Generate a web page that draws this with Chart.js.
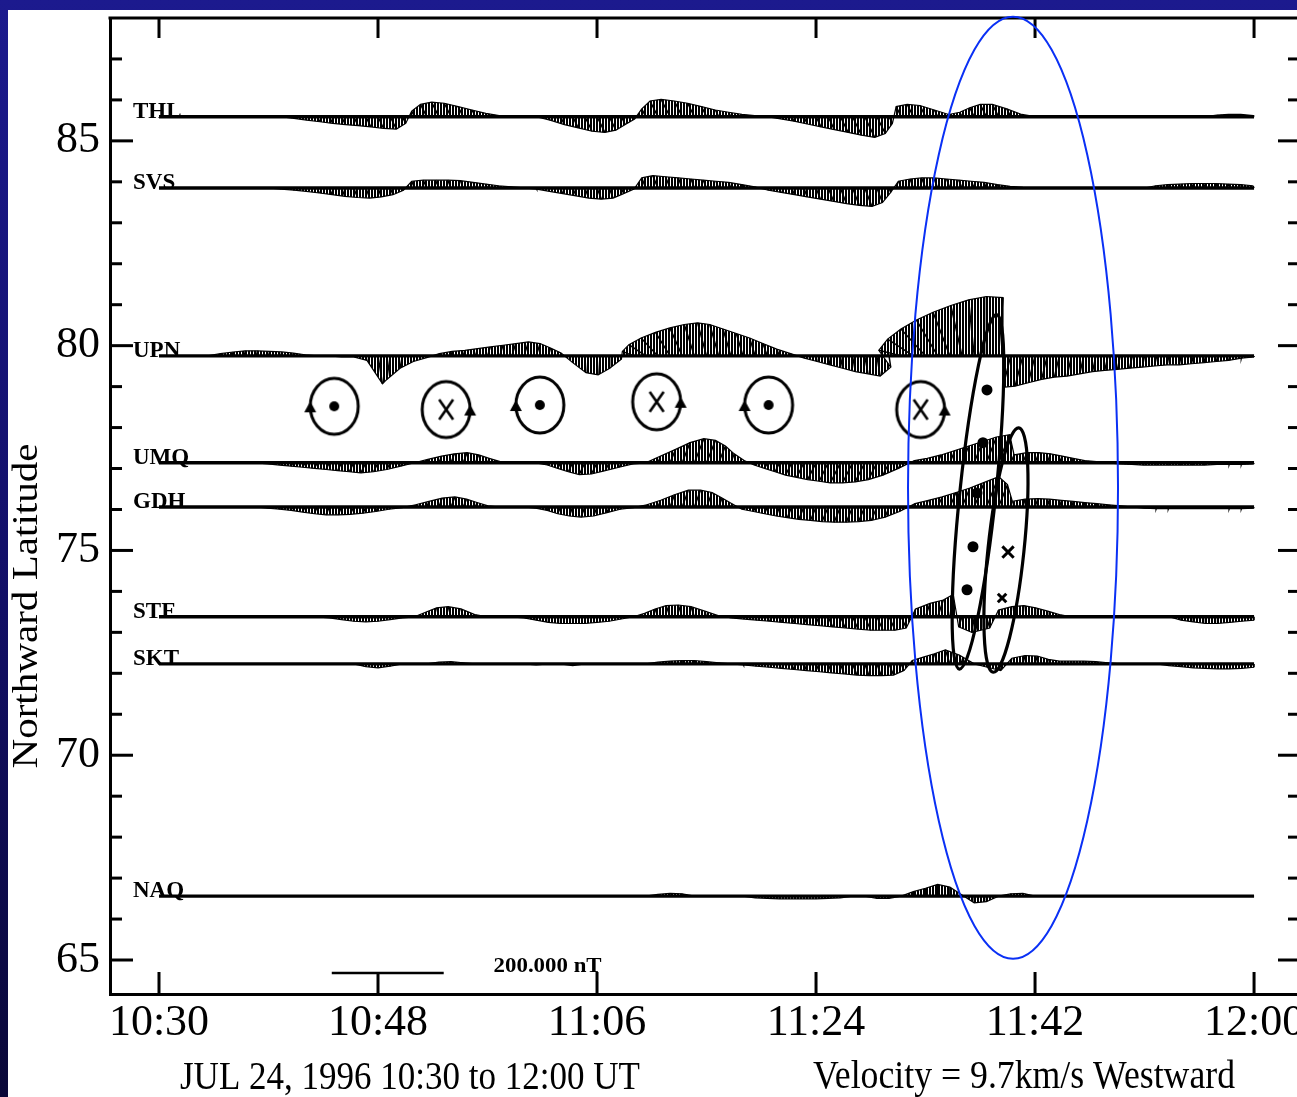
<!DOCTYPE html>
<html>
<head>
<meta charset="utf-8">
<script src="https://cdn.jsdelivr.net/npm/chart.js@4.4.1/dist/chart.umd.min.js"></script>
<style>
  html, body { margin: 0; padding: 0; }
  body {
    width: 1297px; height: 1097px; overflow: hidden; position: relative;
    background: linear-gradient(180deg, #1c1a8e 0%, #120f66 55%, #0a0838 100%);
  }
  #wrap { position: absolute; left: 8px; top: 10px; width: 1289px; height: 1087px; background: #fff; }
  canvas { display: block; }
</style>
</head>
<body>
<div id="wrap"><canvas id="stack" width="1289" height="1087"></canvas></div>
<script>
// minutes after 10:30 UT, one sample per minute
const MINUTES = [0,1,2,3,4,5,6,7,8,9,10,11,12,13,14,15,16,17,18,19,20,21,22,23,24,25,26,27,28,29,
  30,31,32,33,34,35,36,37,38,39,40,41,42,43,44,45,46,47,48,49,50,51,52,53,54,55,56,57,58,59,
  60,61,62,63,64,65,66,67,68,69,70,71,72,73,74,75,76,77,78,79,80,81,82,83,84,85,86,87,88,89,90];
const TIME_TICKS = [0, 18, 36, 54, 72, 90];
const TIME_LABELS = ['10:30', '10:48', '11:06', '11:24', '11:42', '12:00'];
const LAT_TICKS = [65,66,67,68,69,70,71,72,73,74,75,76,77,78,79,80,81,82,83,84,85,86,87];

const STATIONS = ['THL', 'SVS', 'UPN', 'UMQ', 'GDH', 'STF', 'SKT', 'NAQ'];
const STATION_LAT = [85.59, 83.85, 79.75, 77.14, 76.06, 73.38, 72.23, 66.56];

// perturbation vectors (nT): north and east components
const THL_N = [0,0,0,0,0,0,0,0,0,0,0,
  -3,-6,-9,-12,-14,-16,-18,-21,-22,-12,
  10,22,26,24,18,12,6,2,
  0,0,0,
  -6,-14,-20,-26,-28,-24,-14,-4,
  14,28,31,28,24,18,12,8,4,2,
  0,
  -4,-8,-13,-18,-23,-28,-33,-37,-30,-12,
  18,22,20,12,4,
  8,16,22,22,14,4,
  0,0,0,0,0,0,0,0,0,0,0,0,0,0,0,
  3,4,4,2];
const THL_E = [0,0,0,0,0,0,0,0,0,0,0,
  2,3,5,6,7,8,9,10,11,6,
  -5,-11,-13,-12,-9,-6,-3,-1,
  0,0,0,
  3,7,10,13,14,12,7,2,
  -7,-14,-16,-14,-12,-9,-6,-4,-2,-1,
  0,
  2,4,6,9,11,14,16,18,15,6,
  -9,-11,-10,-6,-2,
  -4,-8,-11,-11,-7,-2,
  0,0,0,0,0,0,0,0,0,0,0,0,0,0,0,
  -1,-2,-2,-1];

const SVS_N = [0,0,0,0,0,0,0,0,0,0,
  -2,-4,-6,-9,-12,-15,-17,-18,-16,-12,-4,
  12,14,14,14,13,10,7,4,2,
  0,-2,
  -6,-10,-14,-18,-20,-18,-10,-2,
  18,22,20,18,16,14,12,10,6,2,
  -4,-8,-12,-16,-20,-24,-28,-31,-33,-26,-8,
  12,16,18,18,16,14,12,10,6,3,1,
  0,0,0,0,0,0,0,0,0,0,
  4,6,7,8,8,8,7,6,4];
const SVS_E = [0,0,0,0,0,0,0,0,0,0,
  1,2,2,4,5,6,7,7,6,5,2,
  -5,-6,-6,-6,-5,-4,-3,-2,-1,
  0,1,
  2,4,6,7,8,7,4,1,
  -7,-9,-8,-7,-6,-6,-5,-4,-2,-1,
  2,3,5,6,8,10,11,12,13,10,3,
  -5,-6,-7,-7,-6,-6,-5,-4,-2,-1,0,
  0,0,0,0,0,0,0,0,0,0,
  -2,-2,-3,-3,-3,-3,-3,-2,-2];

const UPN_N = [0,0,0,0,0,
  4,7,9,9,8,7,5,2,
  0,0,-2,
  -2,-8,-50,-42,-22,-10,-3,
  4,8,10,13,16,19,22,25,22,14,5,
  -12,-30,-34,-22,-6,
  8,20,32,42,50,56,59,56,48,40,32,22,12,4,
  -4,-10,-16,-22,-28,-32,-36,-20,
  10,30,48,64,78,90,100,106,104,
  -56,-54,-48,-42,-38,-36,-32,-28,-26,-24,-22,-20,-18,-16,-16,-14,-12,-10,-8,-4,-2];
const UPN_E = [0,0,0,0,0,
  1,2,2,2,2,2,1,0,
  0,0,0,
  0,2,8,-6,-4,-2,0,
  1,2,3,4,5,6,7,8,7,4,1,
  0,2,2,1,0,
  -20,-30,-30,-26,-22,-18,-16,-16,-14,-12,-10,-8,-5,-2,
  1,2,3,4,5,6,6,3,
  -40,-46,-44,-38,-30,-20,-10,0,8,
  -14,-14,-12,-10,-9,-8,-7,-6,-6,-5,-5,-4,-4,-3,-3,-3,-2,-2,-2,-1,0];

const UMQ_N = [0,0,0,0,0,0,0,0,0,
  -2,-4,-6,-8,-10,-12,-14,-16,-18,-16,-12,-6,
  0,6,12,16,18,14,8,2,
  0,0,0,-4,
  -10,-16,-21,-20,-14,-8,-2,
  0,
  12,24,36,43,40,30,16,4,
  -4,-10,-16,-22,-26,-30,-33,-36,-36,-34,-30,-22,-10,
  4,8,14,22,30,38,46,50,
  14,18,18,16,12,8,4,2,
  0,-2,-3,-4,-4,-4,-4,-4,-4,-3,-3,-3,-2];
const UMQ_E = [0,0,0,0,0,0,0,0,0,
  -1,-2,-3,-4,-5,-6,-7,-8,-9,-8,-6,-3,
  0,2,5,6,7,6,3,1,
  0,0,0,-2,
  -5,-8,-10,-10,-7,-4,-1,
  0,
  5,10,14,17,16,12,6,2,
  -2,-5,-8,-11,-13,-15,-16,-18,-18,-17,-15,-11,-5,
  2,3,6,9,12,15,18,20,
  6,7,7,6,5,3,2,1,
  0,-1,-1,-2,-2,-2,-2,-2,-2,-1,-1,-1,-1];

const GDH_N = [0,0,0,0,0,0,0,0,0,
  -2,-4,-6,-9,-12,-14,-14,-13,-11,-8,-4,-1,
  4,10,16,18,14,8,2,
  0,0,0,-2,
  -6,-12,-16,-18,-16,-10,-4,-1,
  4,12,22,30,30,26,16,6,
  -4,-8,-12,-16,-19,-22,-24,-26,-27,-27,-26,-24,-18,-8,
  6,12,18,26,34,44,54,40,
  10,14,15,14,12,10,8,6,4,2,
  0,-2,-3,-3,-3,-3,-3,-3,-3,-3,-2];
const GDH_E = [0,0,0,0,0,0,0,0,0,
  -1,-2,-3,-4,-5,-6,-6,-6,-5,-4,-2,0,
  2,4,6,7,6,3,1,
  0,0,0,-1,
  -2,-5,-6,-7,-6,-4,-2,0,
  2,5,8,11,11,10,6,2,
  -2,-3,-5,-6,-8,-9,-10,-11,-11,-11,-11,-10,-7,-3,
  3,5,8,11,14,18,22,16,
  3,4,5,4,4,3,2,2,1,1,
  0,-1,-1,-1,-1,-1,-1,-1,-1,-1,-1];

const STF_N = [0,0,0,0,0,0,0,0,0,0,0,0,0,0,
  -2,-5,-8,-9,-8,-5,-2,
  0,
  8,16,18,14,4,
  0,0,0,-2,
  -6,-10,-12,-12,-12,-10,-8,-4,
  0,
  6,14,20,21,18,10,2,
  -2,-4,-6,-8,-10,-12,-14,-16,-18,-20,-22,-24,-24,-24,-20,
  14,24,30,40,
  -18,-28,-20,
  12,18,20,16,10,4,
  0,0,0,0,2,0,0,0,0,
  -6,-9,-12,-12,-10,-8,-6];
const STF_E = [0,0,0,0,0,0,0,0,0,0,0,0,0,0,
  0,0,0,0,0,0,0,
  0,
  -2,-4,-5,-4,-1,
  0,0,0,0,
  0,0,0,0,0,0,0,0,
  0,
  -2,-5,-7,-7,-6,-3,-1,
  1,2,3,4,5,5,6,7,8,9,10,11,11,11,9,
  4,8,10,6,
  -6,-4,6,
  0,2,2,1,1,0,
  0,0,0,0,0,0,0,0,0,
  0,0,0,0,0,0,0];

const SKT_N = [0,0,0,0,0,0,0,0,0,0,0,0,0,0,0,0,0,
  -5,-7,-4,
  0,0,0,
  3,4,2,
  0,0,0,0,0,-2,0,0,-3,0,0,0,0,0,0,
  3,5,6,6,4,2,
  0,
  -2,-4,-6,-8,-10,-12,-14,-16,-18,-20,-21,-21,-20,-12,
  6,12,18,25,16,
  0,-6,-12,
  10,15,14,8,
  5,5,5,4,2,
  0,0,0,0,
  -3,-5,-7,-8,-9,-9,-8,-6];
const SKT_E = [0,0,0,0,0,0,0,0,0,0,0,0,0,0,0,0,0,
  0,0,0,
  0,0,0,
  0,0,0,
  0,0,0,0,0,0,0,0,0,0,0,0,0,0,0,
  0,0,0,0,0,0,
  0,
  1,2,3,3,4,5,6,6,7,8,8,8,8,5,
  -2,-4,-6,-8,-5,
  0,2,4,
  2,4,4,2,
  0,0,0,0,0,
  0,0,0,0,
  0,0,0,0,0,0,0,0];

const NAQ_N = [0,0,0,0,0,0,0,0,0,0,0,0,0,0,0,0,0,0,0,0,
  0,0,0,0,0,0,0,0,0,0,0,0,0,0,0,0,0,0,0,0,0,
  3,5,4,
  0,0,0,0,0,
  -3,-4,-5,-5,-5,-5,-4,-3,
  0,0,
  -4,-4,
  0,
  8,14,21,16,
  2,
  -12,-10,
  0,
  4,5,
  0,0,0,0,0,0,0,0,0,0,0,0,0,0,0,0,0,0,0];
const NAQ_E = null;

const VEC_N = [THL_N, SVS_N, UPN_N, UMQ_N, GDH_N, STF_N, SKT_N, NAQ_N];
const VEC_E = [THL_E, SVS_E, UPN_E, UMQ_E, GDH_E, STF_E, SKT_E, NAQ_E];

// plot scale of the vectors: 200 nT bar
const SCALE_NT = 200;
const MIN_PER_NT = 0.0460;
const DEG_PER_NT = 0.01368;
const BAR_START = 14.2;
const BAR_LAT = 64.68;

// current symbols (out of page / into page)
const SYMBOL_X = [14.4, 23.6, 31.3, 40.9, 50.1, 62.6];
const SYMBOL_LAT = [78.52, 78.44, 78.55, 78.63, 78.55, 78.44];
const SYMBOL_KIND = ['out', 'in', 'out', 'in', 'out', 'in'];
const DOT_X = [68.05, 67.72, 67.23, 66.90, 66.41];
const DOT_LAT = [78.92, 77.63, 76.40, 75.09, 74.04];
const CROSS_X = [69.78, 69.29];
const CROSS_LAT = [74.96, 73.84];

// hand drawn loops and the blue ring (data units, rotation in degrees)
const LOOPS = [
  { x: 67.31, lat: 76.43, rx: 1.48, ry: 4.35, rot: 6 },
  { x: 69.61, lat: 75.01, rx: 1.48, ry: 3.0, rot: 6 }
];
const RING = { x: 70.19, lat: 76.53, rx: 8.63, ry: 11.5 };

const SERIF = '"Liberation Serif", "Times New Roman", serif';

const canvas = document.getElementById('stack');
const ctx0 = canvas.getContext('2d');

// hatch pattern for the vector envelopes
const tile = document.createElement('canvas');
tile.width = 3; tile.height = 3;
const tg = tile.getContext('2d');
tg.fillStyle = '#000';
tg.fillRect(0, 0, 2, 3);
const HATCH = ctx0.createPattern(tile, 'repeat');

function symbolImage(kind) {
  const c = document.createElement('canvas');
  c.width = 72; c.height = 72;
  const g = c.getContext('2d');
  g.strokeStyle = '#000'; g.fillStyle = '#000'; g.lineWidth = 3;
  g.beginPath(); g.ellipse(36, 36, 24, 28, 0, 0, Math.PI * 2); g.stroke();
  let ax;
  if (kind === 'out') {
    g.beginPath(); g.arc(36, 36, 5, 0, Math.PI * 2); g.fill();
    ax = 12;
  } else {
    g.lineWidth = 2.6;
    g.beginPath();
    g.moveTo(29, 26); g.lineTo(43, 46);
    g.moveTo(43, 26); g.lineTo(29, 46);
    g.stroke();
    ax = 60;
  }
  g.beginPath();
  g.moveTo(ax - 6, 42); g.lineTo(ax + 6, 42); g.lineTo(ax, 31);
  g.closePath(); g.fill();
  return c;
}
const SYMBOL_IMG = { out: symbolImage('out'), in: symbolImage('in') };

// datasets
const datasets = [];
STATIONS.forEach((name, s) => {
  const lat = STATION_LAT[s], N = VEC_N[s], E = VEC_E[s];
  const tips = MINUTES.map((m, i) => ({
    x: m + (E ? E[i] : 0) * MIN_PER_NT,
    y: lat + N[i] * DEG_PER_NT
  }));
  const sticks = [];
  MINUTES.forEach((m, i) => {
    const e = E ? E[i] : 0;
    if (!N[i] && !e) return;
    sticks.push({ x: m, y: lat }, tips[i], { x: m, y: null });
  });
  datasets.push({
    label: name + ' envelope', data: tips, fill: { value: lat },
    backgroundColor: HATCH, borderColor: '#000', borderWidth: 1.2, order: 4
  });
  datasets.push({
    label: name + ' vectors', data: sticks, borderColor: '#000',
    borderWidth: 1.5, fill: false, order: 3
  });
  datasets.push({
    label: name, data: [{ x: MINUTES[0], y: lat }, { x: MINUTES[MINUTES.length - 1], y: lat }],
    borderColor: '#000', borderWidth: 3.4, fill: false, order: 2
  });
});

datasets.push({
  label: 'scale', data: [{ x: BAR_START, y: BAR_LAT }, { x: BAR_START + SCALE_NT * MIN_PER_NT, y: BAR_LAT }],
  borderColor: '#000', borderWidth: 2.5, fill: false, order: 2
});
datasets.push({
  label: 'currents', data: SYMBOL_X.map((x, i) => ({ x: x, y: SYMBOL_LAT[i] })),
  showLine: false, pointStyle: SYMBOL_KIND.map(k => SYMBOL_IMG[k]), pointRadius: 28, order: 0
});
datasets.push({
  label: 'dots', data: DOT_X.map((x, i) => ({ x: x, y: DOT_LAT[i] })),
  showLine: false, pointStyle: 'circle', pointRadius: 5.5,
  backgroundColor: '#000', borderColor: '#000', borderWidth: 0, order: 0
});
datasets.push({
  label: 'crosses', data: CROSS_X.map((x, i) => ({ x: x, y: CROSS_LAT[i] })),
  showLine: false, pointStyle: 'crossRot', pointRadius: [8, 6],
  borderColor: '#000', borderWidth: 3, order: 0
});

function line(ctx, x1, y1, x2, y2) {
  ctx.beginPath(); ctx.moveTo(x1, y1); ctx.lineTo(x2, y2); ctx.stroke();
}

function squeezed(ctx, text, x, y, font, width, align) {
  ctx.save();
  ctx.font = font;
  const sx = width ? width / ctx.measureText(text).width : 1;
  ctx.translate(x, y);
  ctx.scale(sx, 1);
  ctx.textAlign = align || 'left';
  ctx.fillText(text, 0, 0);
  ctx.restore();
}

const frame = {
  id: 'frame',
  afterDatasetsDraw(chart) {
    const { ctx, scales: { x, y } } = chart;
    ctx.save();
    ctx.strokeStyle = '#000';
    ctx.lineWidth = 3.2;
    LOOPS.forEach(l => {
      const cx = x.getPixelForValue(l.x), cy = y.getPixelForValue(l.lat);
      const rx = Math.abs(x.getPixelForValue(l.x + l.rx) - cx);
      const ry = Math.abs(y.getPixelForValue(l.lat + l.ry) - cy);
      ctx.beginPath();
      ctx.ellipse(cx, cy, rx, ry, l.rot * Math.PI / 180, 0, Math.PI * 2);
      ctx.stroke();
    });
    ctx.restore();
  },
  afterDraw(chart) {
    const { ctx, chartArea: a, scales: { x, y } } = chart;
    ctx.save();
    ctx.strokeStyle = '#000';
    ctx.fillStyle = '#000';
    ctx.lineWidth = 3;
    line(ctx, a.left - 1.5, a.top, a.right, a.top);
    y.ticks.forEach(t => {
      const py = y.getPixelForValue(t.value);
      const major = t.value % 5 === 0;
      line(ctx, a.left, py, a.left + (major ? 23 : 12), py);
      line(ctx, a.right - (major ? 19 : 9), py, a.right, py);
    });
    x.ticks.forEach(t => {
      const px = x.getPixelForValue(t.value);
      line(ctx, px, a.bottom, px, a.bottom - 22);
      line(ctx, px, a.top, px, a.top + 20);
    });

    // station names
    ctx.textBaseline = 'alphabetic';
    STATIONS.forEach((name, s) => {
      squeezed(ctx, name, x.getPixelForValue(MINUTES[0]) - 26, y.getPixelForValue(STATION_LAT[s]) + 1,
        'bold 23px ' + SERIF, 0, 'left');
    });

    // scale bar label
    squeezed(ctx, SCALE_NT.toFixed(3) + ' nT', x.getPixelForValue(27.5), y.getPixelForValue(BAR_LAT) - 1,
      'bold 21px ' + SERIF, 108, 'left');

    // axis titles
    ctx.save();
    ctx.translate(20, 596);
    ctx.rotate(-Math.PI / 2);
    ctx.textBaseline = 'middle';
    squeezed(ctx, 'Northward Latitude', 0, 0, '35px ' + SERIF, 325, 'center');
    ctx.restore();
    squeezed(ctx, 'JUL 24, 1996 10:30 to 12:00 UT', 402, 1079, '40px ' + SERIF, 460, 'center');
    squeezed(ctx, 'Velocity = 9.7km/s Westward', 1016, 1078, '40px ' + SERIF, 422, 'center');

    // blue ring
    const cx = x.getPixelForValue(RING.x), cy = y.getPixelForValue(RING.lat);
    const rx = Math.abs(x.getPixelForValue(RING.x + RING.rx) - cx);
    const ry = Math.abs(y.getPixelForValue(RING.lat + RING.ry) - cy);
    ctx.strokeStyle = '#0a30f5';
    ctx.lineWidth = 2;
    ctx.beginPath();
    ctx.ellipse(cx, cy, rx, ry, 0, 0, Math.PI * 2);
    ctx.stroke();
    ctx.restore();
  }
};

new Chart(canvas, {
  type: 'line',
  data: { datasets: datasets },
  plugins: [frame],
  options: {
    responsive: false,
    animation: false,
    devicePixelRatio: 1,
    layout: { autoPadding: false, padding: { top: 8, left: 0, right: 0, bottom: 0 } },
    plugins: { legend: { display: false }, tooltip: { enabled: false } },
    elements: { point: { radius: 0 }, line: { tension: 0 } },
    scales: {
      x: {
        type: 'linear',
        min: -4.027,
        max: 93.53,
        border: { display: true, width: 3, color: '#000' },
        grid: { display: true, drawOnChartArea: false, drawTicks: false },
        afterBuildTicks: s => { s.ticks = TIME_TICKS.map(v => ({ value: v })); },
        afterFit: s => { s.height = 103; s.paddingLeft = 0; s.paddingRight = 0; },
        ticks: {
          autoSkip: false, maxRotation: 0, padding: 3, color: '#000',
          font: { family: SERIF, size: 44 },
          callback: (v, i) => TIME_LABELS[i]
        }
      },
      y: {
        type: 'linear',
        min: 64.17,
        max: 88.0,
        border: { display: true, width: 3, color: '#000' },
        grid: { display: true, drawOnChartArea: false, drawTicks: false },
        afterBuildTicks: s => { s.ticks = LAT_TICKS.map(v => ({ value: v })); },
        afterFit: s => { s.width = 102; s.paddingTop = 0; s.paddingBottom = 0; },
        ticks: {
          autoSkip: false, padding: 10, color: '#000',
          font: { family: SERIF, size: 44 },
          callback: v => (v % 5 === 0 ? v : '')
        }
      }
    }
  }
});
</script>
</body>
</html>
